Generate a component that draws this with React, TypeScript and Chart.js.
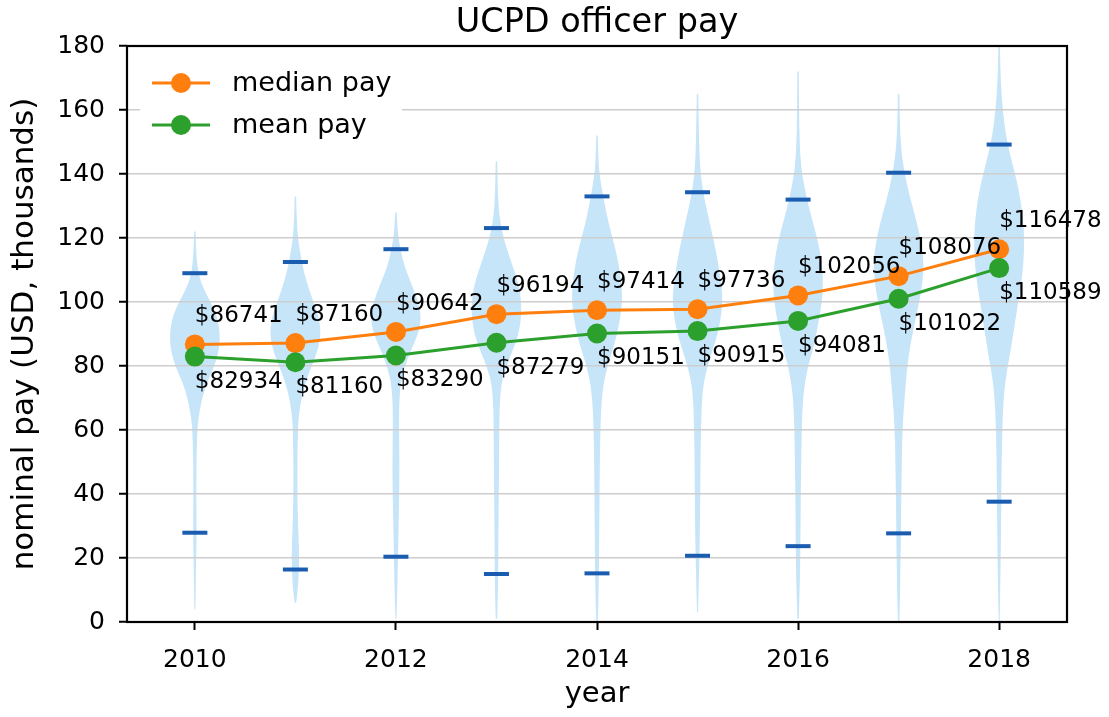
import React, { useEffect, useRef } from 'react';
import { Chart, registerables } from 'chart.js';

Chart.register(...registerables);

// ---------- data ----------
const chartTitle = 'UCPD officer pay';
const years = [2010, 2011, 2012, 2013, 2014, 2015, 2016, 2017, 2018];
const medianPay = [86741, 87160, 90642, 96194, 97414, 97736, 102056, 108076, 116478];
const meanPay = [82934, 81160, 83290, 87279, 90151, 90915, 94081, 101022, 110589];
// extrema bars (thousands USD)
const capMax = [109, 112.5, 116.5, 123.1, 133, 134.3, 132, 140.4, 149.2];
const capMin = [27.9, 16.4, 20.4, 15.0, 15.2, 20.7, 23.7, 27.7, 37.6];
const xTickYears = [2010, 2012, 2014, 2016, 2018];
const yTicks = [0, 20, 40, 60, 80, 100, 120, 140, 160, 180];

// violin density profiles: [pay (thousands), relative half-width 0..1], top to bottom
const violin2010 = [[122, 0.03], [116, 0.05], [112, 0.09], [109, 0.15], [106, 0.25], [103, 0.42], [100, 0.63], [96, 0.86], [92, 0.97], [88, 1.0], [84, 0.93], [80, 0.78], [76, 0.55], [72, 0.36], [68, 0.24], [64, 0.15], [60, 0.1], [52, 0.07], [44, 0.06], [36, 0.06], [28, 0.07], [20, 0.05], [12, 0.04], [4, 0.02]];
const violin2011 = [[133, 0.03], [126, 0.05], [120, 0.1], [115, 0.2], [110, 0.32], [105, 0.5], [100, 0.72], [96, 0.9], [92, 1.0], [88, 0.98], [84, 0.85], [80, 0.65], [76, 0.45], [72, 0.3], [68, 0.2], [64, 0.13], [60, 0.1], [50, 0.08], [40, 0.08], [32, 0.1], [26, 0.13], [20, 0.15], [14, 0.13], [9, 0.08], [6, 0.03]];
const violin2012 = [[128, 0.03], [123, 0.06], [119, 0.12], [115, 0.22], [111, 0.35], [107, 0.55], [103, 0.75], [99, 0.92], [95, 1.0], [91, 0.92], [87, 0.72], [83, 0.5], [79, 0.32], [75, 0.2], [70, 0.14], [64, 0.12], [56, 0.13], [48, 0.14], [40, 0.13], [32, 0.11], [24, 0.09], [16, 0.07], [8, 0.05], [1, 0.02]];
const violin2013 = [[144, 0.03], [136, 0.05], [130, 0.08], [125, 0.15], [120, 0.28], [115, 0.48], [110, 0.7], [106, 0.86], [102, 0.96], [97, 1.0], [92, 0.93], [88, 0.8], [84, 0.6], [80, 0.4], [76, 0.24], [72, 0.16], [66, 0.12], [58, 0.11], [48, 0.1], [38, 0.09], [28, 0.08], [18, 0.07], [10, 0.06], [1, 0.03]];
const violin2014 = [[152, 0.03], [145, 0.05], [140, 0.1], [135, 0.2], [130, 0.32], [125, 0.45], [120, 0.62], [115, 0.78], [110, 0.9], [105, 0.98], [100, 1.0], [95, 0.92], [90, 0.8], [85, 0.62], [80, 0.42], [76, 0.3], [72, 0.22], [66, 0.16], [58, 0.13], [48, 0.11], [38, 0.1], [28, 0.09], [18, 0.08], [8, 0.06], [0, 0.03]];
const violin2015 = [[165, 0.03], [155, 0.05], [145, 0.08], [138, 0.15], [132, 0.28], [126, 0.45], [120, 0.62], [114, 0.78], [108, 0.9], [102, 1.0], [96, 0.95], [90, 0.8], [85, 0.6], [80, 0.4], [75, 0.25], [70, 0.18], [62, 0.14], [52, 0.12], [42, 0.11], [32, 0.1], [22, 0.08], [12, 0.05], [3, 0.02]];
const violin2016 = [[172, 0.03], [160, 0.04], [150, 0.06], [142, 0.12], [136, 0.25], [130, 0.42], [124, 0.62], [118, 0.82], [112, 0.95], [106, 1.0], [100, 0.95], [94, 0.82], [88, 0.68], [84, 0.55], [80, 0.4], [75, 0.28], [70, 0.2], [62, 0.15], [52, 0.13], [42, 0.11], [32, 0.1], [22, 0.09], [12, 0.07], [1, 0.03]];
const violin2017 = [[165, 0.03], [155, 0.05], [148, 0.1], [142, 0.2], [136, 0.35], [130, 0.55], [124, 0.75], [118, 0.92], [112, 1.0], [106, 0.95], [100, 0.82], [94, 0.66], [88, 0.5], [82, 0.38], [76, 0.3], [70, 0.24], [64, 0.18], [56, 0.14], [46, 0.12], [36, 0.1], [26, 0.09], [16, 0.07], [6, 0.05], [0, 0.03]];
const violin2018 = [[180, 0.03], [172, 0.05], [164, 0.1], [156, 0.2], [150, 0.32], [144, 0.5], [138, 0.7], [132, 0.85], [126, 0.95], [120, 1.0], [114, 0.98], [108, 0.92], [102, 0.8], [96, 0.68], [90, 0.56], [84, 0.44], [78, 0.3], [72, 0.2], [64, 0.14], [54, 0.11], [44, 0.09], [34, 0.08], [24, 0.07], [14, 0.05], [4, 0.03], [0, 0.02]];
const violinProfiles = [violin2010, violin2011, violin2012, violin2013, violin2014, violin2015, violin2016, violin2017, violin2018];

// ---------- styles ----------
const FONT = 'DejaVu Sans';
const ORANGE = '#ff7f0e';
const GREEN = '#2ca02c';
const CAP_COLOR = '#1a5cb0';
const VIOLIN_COLOR = 'rgb(199, 229, 249)';
const VIOLIN_HALF = 0.25; // years
const GRID_COLOR = '#cdcdcd';

const smoothSide = (ctx: CanvasRenderingContext2D, pts: number[][], first: boolean) => {
  pts.forEach((p, k) => {
    if (k === 0) {
      if (first) ctx.moveTo(p[0], p[1]);
      else ctx.lineTo(p[0], p[1]);
    } else if (k < pts.length - 1) {
      const n = pts[k + 1];
      ctx.quadraticCurveTo(p[0], p[1], (p[0] + n[0]) / 2, (p[1] + n[1]) / 2);
    } else {
      ctx.lineTo(p[0], p[1]);
    }
  });
};

const violinPlugin = {
  id: 'violins',
  beforeDraw(chart: any) {
    const { ctx, chartArea, scales } = chart;
    const x = scales.x;
    const y = scales.y;
    ctx.save();
    ctx.beginPath();
    ctx.rect(chartArea.left, chartArea.top, chartArea.right - chartArea.left, chartArea.bottom - chartArea.top);
    ctx.clip();
    ctx.fillStyle = VIOLIN_COLOR;
    violinProfiles.forEach((prof, i) => {
      const yr = years[i];
      const right = prof.map(([v, w]) => [x.getPixelForValue(yr + w * VIOLIN_HALF), y.getPixelForValue(v)]);
      const left = prof.map(([v, w]) => [x.getPixelForValue(yr - w * VIOLIN_HALF), y.getPixelForValue(v)]).reverse();
      ctx.beginPath();
      smoothSide(ctx, right, true);
      smoothSide(ctx, left, false);
      ctx.closePath();
      ctx.fill();
    });
    ctx.restore();
  },
};

const overlayPlugin = {
  id: 'overlay',
  afterDatasetsDraw(chart: any) {
    const { ctx, chartArea } = chart;
    ctx.save();
    // frame
    ctx.strokeStyle = '#000';
    ctx.lineWidth = 2.2;
    ctx.strokeRect(chartArea.left, chartArea.top, chartArea.right - chartArea.left, chartArea.bottom - chartArea.top);

    // title, centred over the plot area
    ctx.fillStyle = '#000';
    ctx.font = `33.5px "${FONT}"`;
    ctx.textAlign = 'center';
    ctx.textBaseline = 'middle';
    ctx.fillText(chartTitle, (chartArea.left + chartArea.right) / 2, chartArea.top - 23);

    // legend
    const lx = chartArea.left + 13;
    const ly = chartArea.top + 9;
    ctx.fillStyle = '#fff';
    ctx.fillRect(lx, ly, 262, 98);
    const items = [0, 1].map((i) => chart.data.datasets[i]);
    items.forEach((ds: any, r: number) => {
      const cy = ly + 28 + r * 42;
      ctx.strokeStyle = ds.borderColor;
      ctx.lineWidth = 3;
      ctx.beginPath();
      ctx.moveTo(lx + 12, cy);
      ctx.lineTo(lx + 70, cy);
      ctx.stroke();
      ctx.fillStyle = ds.borderColor;
      ctx.beginPath();
      ctx.arc(lx + 41, cy, 10, 0, Math.PI * 2);
      ctx.fill();
      ctx.fillStyle = '#000';
      ctx.font = `27px "${FONT}"`;
      ctx.textAlign = 'left';
      ctx.textBaseline = 'middle';
      ctx.fillText(ds.label, lx + 92, cy + 1);
    });

    // data labels
    ctx.font = `23px "${FONT}"`;
    ctx.fillStyle = '#000';
    ctx.textAlign = 'left';
    ctx.textBaseline = 'middle';
    [0, 1].forEach((di) => {
      const ds = chart.data.datasets[di];
      const meta = chart.getDatasetMeta(di);
      meta.data.forEach((pt: any, i: number) => {
        const val = ds.rawValues[i];
        const dy = ds.labelSide === 'above' ? -28 : 25;
        ctx.fillText('$' + val, pt.x, pt.y + dy);
      });
    });
    ctx.restore();
  },
};

export default function App() {
  const ref = useRef<HTMLCanvasElement | null>(null);

  useEffect(() => {
    if (!ref.current) return;
    const chart = new Chart(ref.current, {
      type: 'scatter',
      data: {
        datasets: [
          {
            type: 'line',
            label: 'median pay',
            data: years.map((yr, i) => ({ x: yr, y: medianPay[i] / 1000 })),
            rawValues: medianPay,
            labelSide: 'above',
            borderColor: ORANGE,
            backgroundColor: ORANGE,
            borderWidth: 3,
            pointRadius: 10,
            pointBorderWidth: 0,
            pointBackgroundColor: ORANGE,
            order: 2,
          } as any,
          {
            type: 'line',
            label: 'mean pay',
            data: years.map((yr, i) => ({ x: yr, y: meanPay[i] / 1000 })),
            rawValues: meanPay,
            labelSide: 'below',
            borderColor: GREEN,
            backgroundColor: GREEN,
            borderWidth: 3,
            pointRadius: 10,
            pointBorderWidth: 0,
            pointBackgroundColor: GREEN,
            order: 1,
          } as any,
          {
            type: 'scatter',
            label: 'max',
            data: years.map((yr, i) => ({ x: yr, y: capMax[i] })),
            pointStyle: 'line',
            pointRadius: 12.5,
            pointBorderWidth: 4,
            pointBorderColor: CAP_COLOR,
            borderColor: CAP_COLOR,
            showLine: false,
            order: 3,
          } as any,
          {
            type: 'scatter',
            label: 'min',
            data: years.map((yr, i) => ({ x: yr, y: capMin[i] })),
            pointStyle: 'line',
            pointRadius: 12.5,
            pointBorderWidth: 4,
            pointBorderColor: CAP_COLOR,
            borderColor: CAP_COLOR,
            showLine: false,
            order: 3,
          } as any,
        ],
      },
      options: {
        animation: false,
        responsive: false,
        devicePixelRatio: 1,
        events: [],
        layout: { padding: { left: 0, right: 42, top: 46, bottom: 0 } },
        plugins: {
          legend: { display: false },
          tooltip: { enabled: false },
          title: { display: false },
        },
        scales: {
          x: {
            type: 'linear',
            min: 2009.325,
            max: 2018.675,
            afterBuildTicks: (s: any) => {
              s.ticks = xTickYears.map((v) => ({ value: v }));
            },
            afterFit: (s: any) => {
              s.height = 95;
            },
            ticks: {
              color: '#000',
              font: { family: FONT, size: 25 },
              padding: 15,
              maxRotation: 0,
              autoSkip: false,
              callback: (v: any) => String(v),
            },
            grid: {
              drawOnChartArea: false,
              drawTicks: true,
              tickLength: 8,
              tickWidth: 2,
              tickColor: '#000',
            },
            border: { display: false },
            title: {
              display: true,
              text: 'year',
              color: '#000',
              font: { family: FONT, size: 29 },
              padding: { top: 0, bottom: 5 },
            },
          },
          y: {
            type: 'linear',
            min: 0,
            max: 180,
            afterBuildTicks: (s: any) => {
              s.ticks = yTicks.map((v) => ({ value: v }));
            },
            afterFit: (s: any) => {
              s.width = 127;
            },
            ticks: {
              color: '#000',
              font: { family: FONT, size: 25 },
              padding: 14,
              callback: (v: any) => String(v),
            },
            grid: {
              color: GRID_COLOR,
              lineWidth: 1.5,
              drawTicks: true,
              tickLength: 8,
              tickWidth: 2,
              tickColor: '#000',
            },
            border: { display: false },
            title: {
              display: true,
              text: 'nominal pay (USD, thousands)',
              color: '#000',
              font: { family: FONT, size: 31 },
              padding: { top: 6, bottom: 0 },
            },
          },
        },
      } as any,
      plugins: [violinPlugin, overlayPlugin],
    });
    return () => chart.destroy();
  }, []);

  return (
    <div style={{ position: 'fixed', left: 0, top: 0, width: 1109, height: 717, background: '#fff' }}>
      <canvas ref={ref} width={1109} height={717} style={{ width: 1109, height: 717, display: 'block' }} />
    </div>
  );
}
